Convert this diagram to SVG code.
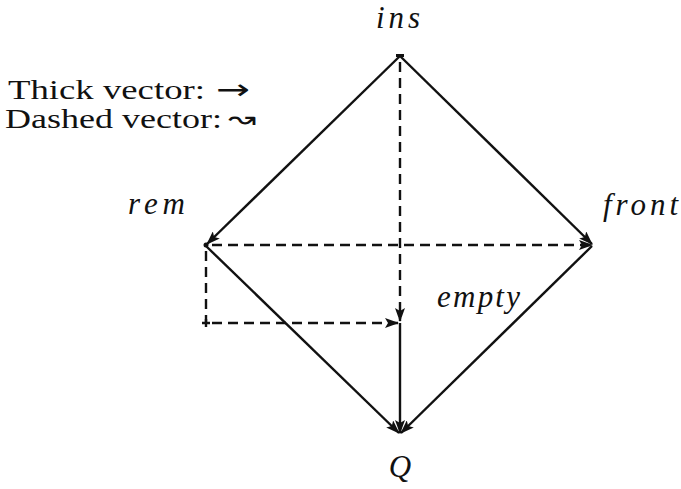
<svg xmlns="http://www.w3.org/2000/svg" width="681" height="489" viewBox="0 0 681 489">
<style>
.lbl{font-family:"Liberation Serif","DejaVu Serif",serif;font-style:italic;font-size:31px;fill:#111}
.leg{font-family:"Liberation Serif","DejaVu Serif",serif;font-size:28px;fill:#111}
.sym{font-family:"DejaVu Sans","Liberation Sans",sans-serif;font-size:28px;fill:#111}
.e{stroke:#111;stroke-width:2.4;fill:none}
.d{stroke-dasharray:10 6}
</style>
<defs>
<marker id="ah" viewBox="0 0 14 10" refX="13" refY="5" markerWidth="14" markerHeight="10" markerUnits="userSpaceOnUse" orient="auto">
<path d="M0,0 L14,5 L0,10 L3,5 Z" fill="#111"/>
</marker>
</defs>
<rect width="681" height="489" fill="#fff"/>
<g id="legend">
<text class="leg" x="8" y="99" textLength="197" lengthAdjust="spacingAndGlyphs">Thick vector:</text>
<text class="sym" x="216" y="99" textLength="34" lengthAdjust="spacingAndGlyphs">→</text>
<text class="leg" x="5" y="128" textLength="217" lengthAdjust="spacingAndGlyphs">Dashed vector:</text>
<text class="sym" x="228" y="128" textLength="28" lengthAdjust="spacingAndGlyphs">↝</text>
</g>
<g id="connectors">
<line class="e" x1="400" y1="56" x2="207" y2="244" marker-end="url(#ah)"/>
<line class="e" x1="400" y1="56" x2="592" y2="244" marker-end="url(#ah)"/>
<line class="e d" x1="400" y1="62" x2="400" y2="321" marker-end="url(#ah)"/>
<line class="e d" x1="212" y1="245" x2="592" y2="245" marker-end="url(#ah)"/>
<line class="e" x1="206" y1="246" x2="399" y2="433" marker-end="url(#ah)"/>
<line class="e" x1="592" y1="246" x2="401" y2="433" marker-end="url(#ah)"/>
<line class="e" x1="400" y1="323" x2="400" y2="433" marker-end="url(#ah)"/>
<path class="e d" d="M206,251 L206,323"/>
<line class="e d" x1="212" y1="323" x2="398" y2="323" marker-end="url(#ah)"/>
</g>
<g id="ins"><rect x="396" y="54" width="8" height="3" fill="#111"/><text class="lbl" x="376" y="28" textLength="44" lengthAdjust="spacing">ins</text></g>
<g id="rem"><circle cx="206" cy="245" r="2.5" fill="#111"/><text class="lbl" x="128" y="214" textLength="57" lengthAdjust="spacing">rem</text></g>
<g id="front"><text class="lbl" x="603" y="215" textLength="75" lengthAdjust="spacing">front</text></g>
<g id="empty"><text class="lbl" x="437" y="307" textLength="83" lengthAdjust="spacing">empty</text></g>
<g id="corner"><path d="M202,323 H210 M206,319 V327" stroke="#111" stroke-width="2.4"/></g>
<g id="Q"><text class="lbl" x="400" y="477" text-anchor="middle">Q</text></g>
</svg>
